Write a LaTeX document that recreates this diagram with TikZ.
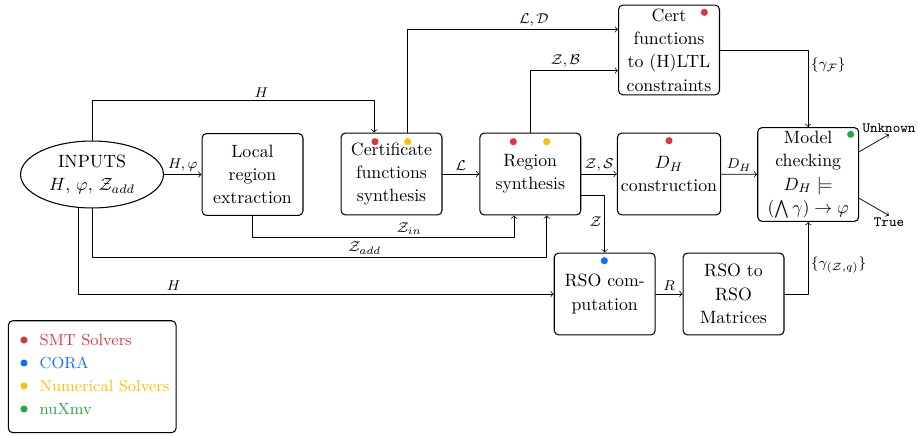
\documentclass[tikz,border=0pt]{standalone}
\usepackage{amsmath}
\usepackage{amssymb}
\usetikzlibrary{shapes.geometric}

\definecolor{smtred}{RGB}{220,53,69}
\definecolor{corablue}{RGB}{13,110,253}
\definecolor{numyellow}{RGB}{255,193,7}
\definecolor{nuxgreen}{RGB}{40,167,69}

\begin{document}
\begin{tikzpicture}[
						x=0.5618pt, y=-0.5618pt,
						line cap=round,
						line join=round,
						block/.style={draw, semithick, rounded corners=2.5pt, align=center,
							font=\fontsize{10pt}{13.1pt}\selectfont,
							minimum width=56.7pt, minimum height=46pt, inner sep=2pt},
						lbl/.style={font=\footnotesize, inner sep=1.5pt},
						outlbl/.style={font=\footnotesize\ttfamily, inner sep=1pt},
						tool/.style={circle, fill=#1, inner sep=0pt, minimum size=4pt}
						]
						
						% Page
						\useasboundingbox (0,0) rectangle (918,435);
						
						% Blocks
						\node[draw, semithick, ellipse, align=center, inner sep=0pt,
							font=\fontsize{10pt}{13.1pt}\selectfont,
							minimum width=80.3pt, minimum height=37.6pt] (inputs) at (92,174.5)
							{INPUTS\\$H$, $\varphi$, $\mathcal{Z}_{add}$};
						\node[block] (local) at (252.5,174.5) {Local\\region\\extraction};
						\node[block] (certsyn) at (391.5,174) {Certificate\\functions\\synthesis};
						\node[block] (region) at (530.3,174) {Region\\synthesis};
						\node[block] (dh) at (669,174) {$D_H$\\construction};
						\node[block] (certltl) at (669,50) {Cert\\functions\\to (H)LTL\\constraints};
						\node[block] (mc) at (808.2,174.5) {Model\\checking\\$D_H \models$\\$(\bigwedge\gamma)\rightarrow\varphi$};
						\node[block] (rso) at (604.7,294) {RSO com-\\putation};
						\node[block] (rsomat) at (733.5,294) {RSO to\\RSO\\Matrices};
						
						% Outputs
						\node[outlbl] (unknown) at (889,128) {Unknown};
						\node[outlbl] (true) at (889,222) {True};
						
						% Tool dots
						\node[tool=smtred] (certsynred) at (375,141.7) {};
						\node[tool=numyellow] (certsynyel) at (407.7,141.7) {};
						\node[tool=smtred] (regionred) at (513.3,141.7) {};
						\node[tool=numyellow] (regionyel) at (546.7,141.7) {};
						\node[tool=smtred] (dhred) at (669,140.7) {};
						\node[tool=smtred] (certltlred) at (704.3,12.3) {};
						\node[tool=nuxgreen] (mcgreen) at (850.7,134.3) {};
						\node[tool=corablue] (rsoblue) at (604.3,260.7) {};
						
						% Connectors
						\draw[->] (inputs) -- node[lbl, above] {$H,\varphi$} (local);
						\draw[->] (inputs.north) -- ++(0,-40.3) -| node[lbl, above, pos=0.3] {$H$} ([xshift=-9.7pt]certsyn.north);
						\draw[->] (local.south) -- ++(0,21.7) -| node[lbl, above, pos=0.3] {$\mathcal{Z}_{in}$} ([xshift=-9.2pt]region.south);
						\draw[->] (inputs.south) -- ++(0,48.7) -| node[lbl, above, pos=0.3] {$\mathcal{Z}_{add}$} ([xshift=9.2pt]region.south);
						\draw[->] (inputs.248) |- node[lbl, above, pos=0.6] {$H$} (rso.west);
						\draw[->] ([xshift=9.1pt]certsyn.north) |- node[lbl, above, pos=0.8] {$\mathcal{L},\mathcal{D}$} ([yshift=11.6pt]certltl.west);
						\draw[->] (region.north) |- node[lbl, above, pos=0.7] {$\mathcal{Z},\mathcal{B}$} ([yshift=-11.6pt]certltl.west);
						\draw[->] (certsyn) -- node[lbl, above] {$\mathcal{L}$} (region);
						\draw[->] (region) -- node[lbl, above] {$\mathcal{Z},\mathcal{S}$} (dh);
						\draw[->] ([yshift=-11.8pt]region.east) -| node[lbl, left, pos=0.73] {$\mathcal{Z}$} (rso.north);
						\draw[->] (dh) -- node[lbl, above] {$D_H$} (mc);
						\draw[->] (certltl.east) -| node[lbl, right, pos=0.6] {$\{\gamma_{\mathcal{F}}\}$} (mc.north);
						\draw[->] (rso) -- node[lbl, above] {$R$} (rsomat);
						\draw[->] (rsomat.east) -| node[lbl, right, pos=0.7] {$\{\gamma_{(\mathcal{Z},q)}\}$} (mc.south);
						\draw[->] ([yshift=12.8pt]mc.east) -- (unknown.south);
						\draw[->] ([yshift=-13.4pt]mc.east) -- (true.north);
						
						% Legend
						\node[draw, semithick, rounded corners=2.5pt, minimum width=94.2pt, minimum height=62.9pt] (legend) at (92.2,376.7) {};
						\foreach \col/\name [count=\i] in {smtred/SMT Solvers, corablue/CORA, numyellow/Numerical Solvers, nuxgreen/nuXmv}{
							\node[tool=\col] (legdot\i) at (24,{340+(\i-1)*23}) {};
							\node[anchor=west, inner sep=0pt, font=\small, text=\col] (legtxt\i) at (39.3,{340+(\i-1)*23}) {\name};
						}
						
					\end{tikzpicture}
\end{document}
